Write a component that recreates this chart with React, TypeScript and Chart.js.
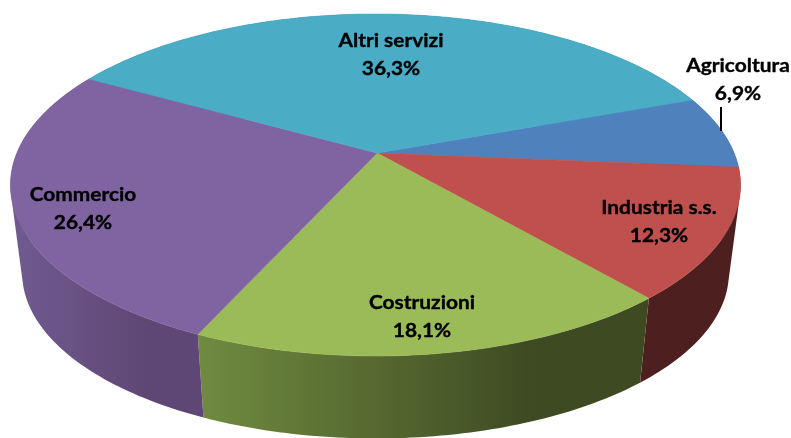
import React, { useEffect, useRef } from "react";
import { Chart, ArcElement, registerables } from "chart.js";

Chart.register(...registerables);

const categories = ["Agricoltura", "Industria s.s.", "Costruzioni", "Commercio", "Altri servizi"];
const shares = [6.9, 12.3, 18.1, 26.4, 36.3];
const shareLabels = ["6,9%", "12,3%", "18,1%", "26,4%", "36,3%"];
const topColors = ["#4f81bd", "#c0504d", "#9bbb59", "#8064a2", "#4bacc6"];
const wallLeft = ["#2f4d71", "#4e1f1f", "#708b40", "#715a90", "#2d6776"];
const wallRight = ["#2f4d71", "#4e1f1f", "#3d4a22", "#5e4774", "#2d6776"];
const labelCentres = [[738, 66], [659, 208], [422, 303], [83, 195], [391, 41]];

// Perspective of the pie's top disc
const APEX_X = 377;
const APEX_Y = 153;
const RIM_X = 375.5;
const RX = 358.6;
const RY = 165;
const PERSP = 0.187;
// The bottom disc is the top one, a little smaller and lower
const BOTTOM_SCALE = 0.968;
const BOTTOM_SHIFT = 89;
const STEP = Math.PI / 180;

function project(angle: number, bottom = false): [number, number] {
  const u = Math.cos(angle);
  const v = Math.sin(angle);
  const w = 1 - PERSP * v;
  const s = bottom ? BOTTOM_SCALE : 1;
  return [RIM_X + (s * RX * u) / w, APEX_Y + (s * RY * v) / w + (bottom ? BOTTOM_SHIFT : 0)];
}

// Slices keep the library's angles and options, but are painted through the perspective.
(ArcElement.prototype as any).draw = function (ctx: CanvasRenderingContext2D) {
  const { startAngle, endAngle } = this.getProps(["startAngle", "endAngle"]);
  const color = this.options.backgroundColor;
  ctx.save();
  ctx.beginPath();
  ctx.moveTo(APEX_X, APEX_Y);
  for (let a = startAngle; a < endAngle; a += STEP) {
    const [x, y] = project(a);
    ctx.lineTo(x, y);
  }
  const [ex, ey] = project(endAngle);
  ctx.lineTo(ex, ey);
  ctx.closePath();
  ctx.fillStyle = color;
  ctx.fill();
  ctx.strokeStyle = color;
  ctx.lineWidth = 0.6;
  ctx.stroke();
  ctx.restore();
};

const wallsPlugin = {
  id: "walls",
  beforeDatasetsDraw(chart: any) {
    const { ctx } = chart;
    chart.getDatasetMeta(0).data.forEach((arc: any, i: number) => {
      const { startAngle, endAngle } = arc.getProps(["startAngle", "endAngle"]);
      const angles: number[] = [];
      for (let a = startAngle; a < endAngle; a += STEP) angles.push(a);
      angles.push(endAngle);
      const xs = angles.map((a) => project(a)[0]);
      const g = ctx.createLinearGradient(Math.min(...xs), 0, Math.max(...xs), 0);
      g.addColorStop(0, wallLeft[i]);
      g.addColorStop(0.75, wallRight[i]);
      g.addColorStop(1, wallRight[i]);
      ctx.save();
      ctx.fillStyle = g;
      ctx.beginPath();
      for (let k = 0; k < angles.length - 1; k++) {
        let quad = [
          project(angles[k]),
          project(angles[k + 1]),
          project(angles[k + 1], true),
          project(angles[k], true),
        ];
        let area = 0;
        quad.forEach((p, j) => {
          const q = quad[(j + 1) % 4];
          area += p[0] * q[1] - q[0] * p[1];
        });
        if (area < 0) quad = quad.reverse();
        quad.forEach((p, j) => (j ? ctx.lineTo(p[0], p[1]) : ctx.moveTo(p[0], p[1])));
        ctx.closePath();
      }
      ctx.fill("nonzero");
      ctx.restore();
    });
  },
};

const labelsPlugin = {
  id: "sliceLabels",
  afterDatasetsDraw(chart: any) {
    const { ctx } = chart;
    ctx.save();
    ctx.strokeStyle = "#000";
    ctx.lineWidth = 2;
    ctx.beginPath();
    ctx.moveTo(721, 107);
    ctx.lineTo(721, 131);
    ctx.stroke();
    ctx.fillStyle = "#000";
    ctx.strokeStyle = "#000";
    ctx.lineWidth = 0.35;
    ctx.font = "700 19px Lato, 'Open Sans', sans-serif";
    ctx.textAlign = "center";
    ctx.textBaseline = "middle";
    const put = (text: string, x: number, y: number) => {
      ctx.save();
      ctx.translate(x, y);
      ctx.scale(1.1, 1);
      ctx.fillText(text, 0, 0);
      ctx.strokeText(text, 0, 0);
      ctx.restore();
    };
    categories.forEach((name, i) => {
      const [x, y] = labelCentres[i];
      put(name, x, y);
      put(shareLabels[i], x, y + 28);
    });
    ctx.restore();
  },
};

export default function App() {
  const ref = useRef<HTMLCanvasElement>(null);
  useEffect(() => {
    document.body.style.margin = "0";
    const chart = new Chart(ref.current!, {
      type: "pie",
      data: {
        labels: categories,
        datasets: [{ data: shares, backgroundColor: topColors, borderWidth: 0 }],
      },
      options: {
        responsive: false,
        animation: false,
        rotation: 70,
        layout: { padding: 0 },
        plugins: { legend: { display: false }, tooltip: { enabled: false } },
      },
      plugins: [wallsPlugin, labelsPlugin],
    } as any);
    return () => chart.destroy();
  }, []);
  return <canvas ref={ref} width={791} height={438} style={{ display: "block" }} />;
}
